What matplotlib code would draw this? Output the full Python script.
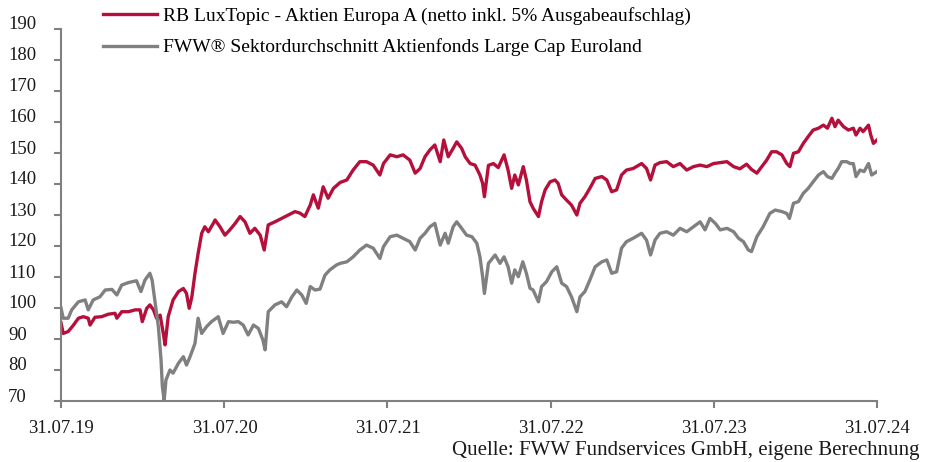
import numpy as np
import pandas as pd
import matplotlib
matplotlib.use("Agg")
import matplotlib.pyplot as plt
import matplotlib.transforms as mtransforms

# days since 31.07.2019 and indexed values
red_days = [0, 5, 16, 28, 39, 50, 61, 65, 76, 91, 106, 121, 125, 136, 151, 166, 177, 182,
            192, 199, 207, 214, 222, 229, 233, 240, 251, 263, 274, 281, 287, 293, 300, 307,
            315, 322, 330, 341, 345, 356, 367, 378, 390, 401, 412, 423, 434, 446, 455, 464,
            479, 494, 509, 524, 535, 546, 558, 565, 576, 587, 598, 610, 625, 640, 654, 669,
            684, 699, 714, 722, 737, 752, 766, 781, 793, 804, 815, 826, 837, 849, 857, 867,
            878, 886, 897, 905, 916, 927, 938, 944, 948, 957, 968, 979, 992, 1001, 1009, 1016,
            1024, 1035, 1042, 1050, 1057, 1069, 1076, 1084, 1095, 1106, 1113, 1121, 1132, 1143,
            1155, 1162, 1173, 1184, 1196, 1211, 1222, 1233, 1244, 1255, 1266, 1281, 1300, 1311,
            1320, 1330, 1341, 1356, 1371, 1386, 1401, 1416, 1431, 1446, 1461, 1476, 1491, 1506,
            1520, 1535, 1546, 1558, 1569, 1580, 1591, 1602, 1614, 1625, 1632, 1640, 1651, 1662,
            1673, 1684, 1696, 1707, 1716, 1726, 1733, 1740, 1752, 1763, 1774, 1780, 1789, 1796,
            1808, 1813, 1819, 1827]
red_vals = [95.2, 91.8, 92.4, 94.5, 96.7, 97.2, 96.7, 94.5, 97.0, 97.2, 98.0, 98.3, 96.7, 98.8,
            98.8, 99.4, 99.4, 95.6, 99.9, 101.0, 99.4, 96.7, 97.7, 91.8, 88.1, 97.2, 102.6, 105.3,
            106.3, 104.7, 99.9, 103.6, 111.2, 117.6, 124.1, 126.2, 124.6, 127.3, 128.4, 126.2,
            123.5, 125.2, 127.3, 129.5, 127.8, 124.1, 125.7, 123.5, 118.7, 126.8, 127.8, 128.9,
            130.0, 131.1, 130.6, 129.5, 133.2, 136.5, 132.2, 139.1, 135.4, 138.6, 140.5, 141.3,
            144.5, 147.2, 147.2, 146.1, 142.9, 146.6, 149.4, 148.8, 149.4, 147.7, 143.5, 145.0,
            148.8, 151.0, 152.6, 147.2, 154.2, 148.8, 151.5, 153.6, 151.5, 148.8, 146.6, 146.1,
            142.9, 140.2, 135.9, 146.0, 146.6, 145.3, 149.4, 144.5, 138.6, 142.9, 139.7, 145.6,
            141.3, 134.3, 132.2, 129.5, 134.3, 138.1, 140.7, 141.3, 140.2, 136.5, 134.8, 133.2,
            130.0, 133.8, 135.9, 138.6, 141.8, 142.4, 141.3, 137.5, 138.1, 142.9, 144.5, 145.0,
            146.6, 145.0, 141.3, 146.1, 146.9, 147.2, 145.6, 146.6, 144.5, 145.6, 146.1, 145.6,
            146.6, 146.9, 147.2, 145.6, 144.9, 146.4, 144.7, 143.5, 145.6, 147.7, 150.4, 150.4,
            149.4, 146.6, 145.6, 149.9, 150.4, 153.1, 155.3, 157.4, 158.0, 159.0, 158.0, 161.2,
            158.5, 160.6, 158.5, 157.4, 158.0, 155.8, 158.0, 156.9, 159.0, 155.8, 153.1, 154.2]

gray_days = [0, 5, 16, 24, 39, 54, 61, 72, 87, 99, 114, 125, 136, 151, 169, 179, 188, 199, 204,
             210, 218, 224, 227, 231, 235, 244, 251, 263, 274, 281, 289, 300, 307, 315, 326, 337,
             352, 363, 375, 386, 397, 408, 419, 431, 442, 452, 457, 464, 479, 494, 505, 517, 528,
             539, 549, 558, 569, 580, 591, 602, 617, 625, 640, 654, 669, 684, 699, 714, 722, 737,
             752, 766, 781, 793, 804, 815, 826, 837, 849, 860, 867, 878, 886, 897, 908, 920, 931,
             938, 944, 948, 957, 972, 983, 992, 1001, 1009, 1016, 1024, 1034, 1042, 1050, 1057,
             1069, 1076, 1087, 1099, 1110, 1121, 1132, 1143, 1155, 1162, 1173, 1184, 1196, 1211,
             1222, 1233, 1244, 1255, 1266, 1281, 1300, 1311, 1320, 1330, 1341, 1356, 1371, 1386,
             1401, 1416, 1431, 1442, 1453, 1465, 1476, 1491, 1506, 1517, 1528, 1539, 1546, 1558,
             1572, 1587, 1599, 1614, 1625, 1631, 1640, 1651, 1662, 1673, 1684, 1696, 1707, 1716,
             1726, 1733, 1740, 1748, 1759, 1767, 1774, 1780, 1789, 1798, 1808, 1815, 1827]
gray_vals = [100.0, 96.7, 96.7, 99.4, 102.0, 102.6, 99.4, 102.6, 103.6, 105.8, 106.0, 104.2,
             107.4, 108.2, 108.8, 105.3, 109.0, 111.2, 109.0, 102.6, 94.0, 83.2, 74.6, 70.3,
             76.8, 80.0, 79.0, 82.2, 84.3, 81.6, 84.3, 88.6, 96.7, 91.8, 94.0, 95.6, 97.2, 91.8,
             95.6, 95.4, 95.6, 94.5, 91.3, 94.5, 93.4, 89.7, 86.5, 98.8, 101.0, 102.0, 100.4,
             103.6, 105.8, 104.2, 101.5, 106.9, 105.8, 106.1, 110.6, 112.3, 113.9, 114.4, 114.9,
             116.5, 118.7, 120.3, 119.3, 116.0, 119.8, 123.0, 123.5, 122.5, 121.4, 118.7, 122.5,
             124.1, 126.2, 127.3, 120.3, 124.1, 120.9, 126.2, 127.8, 125.7, 123.5, 123.0, 120.9,
             116.5, 110.1, 104.7, 114.4, 117.1, 114.4, 116.5, 113.3, 108.0, 112.3, 110.1, 114.9,
             111.2, 106.4, 105.8, 102.0, 106.9, 108.5, 111.7, 113.3, 108.0, 106.9, 103.6, 98.8,
             103.6, 105.3, 109.0, 113.3, 114.9, 115.5, 111.2, 111.7, 119.3, 121.4, 122.5, 124.1,
             121.9, 117.1, 121.9, 124.1, 124.6, 123.5, 125.7, 124.6, 126.2, 127.8, 125.2, 128.9,
             127.3, 125.2, 125.7, 124.6, 122.5, 121.4, 118.7, 118.2, 123.0, 126.2, 130.5, 131.6,
             131.1, 130.5, 128.9, 133.8, 134.3, 137.0, 138.6, 140.7, 142.9, 144.0, 142.4, 141.8,
             143.5, 145.0, 147.2, 147.2, 146.6, 146.6, 142.4, 144.5, 144.0, 146.6, 142.9, 144.0]

y_ticks = list(range(70, 191, 10))
tick_dates = ["2019-07-31", "2020-07-31", "2021-07-31", "2022-07-31", "2023-07-31", "2024-07-31"]
tick_labels = ["31.07.19", "31.07.20", "31.07.21", "31.07.22", "31.07.23", "31.07.24"]

red_label = "RB LuxTopic - Aktien Europa A (netto inkl. 5% Ausgabeaufschlag)"
gray_label = "FWW® Sektordurchschnitt Aktienfonds Large Cap Euroland"
source = "Quelle: FWW Fundservices GmbH, eigene Berechnung"

start = pd.Timestamp("2019-07-31")
red_x = start + pd.to_timedelta(red_days, unit="D")
gray_x = start + pd.to_timedelta(gray_days, unit="D")

plt.rcParams["font.family"] = ["Liberation Serif", "DejaVu Serif"]

RED = "#b5103c"
GRAY = "#808080"
TXT = "#1a1a1a"

fig = plt.figure(figsize=(9.31, 4.62), dpi=100)
ax = fig.add_axes([61 / 931, 1 - 401 / 462, (877 - 61) / 931, (401 - 29) / 462])

l1, = ax.plot(red_x, red_vals, color=RED, lw=2.4, label=red_label)
l2, = ax.plot(gray_x, gray_vals, color=GRAY, lw=2.4, label=gray_label)

ax.set_ylim(70, 190)
ax.set_yticks(y_ticks)
ax.set_yticklabels([])
ax.set_xlim(pd.Timestamp(tick_dates[0]), pd.Timestamp(tick_dates[-1]))
ax.set_xticks([pd.Timestamp(d) for d in tick_dates])
ax.set_xticklabels(tick_labels)

for s in ["top", "right"]:
    ax.spines[s].set_visible(False)
for s in ["left", "bottom"]:
    ax.spines[s].set_color(GRAY)
    ax.spines[s].set_linewidth(1.5)
ax.tick_params(axis="both", color=GRAY, width=1.5, length=5, labelcolor=TXT,
               labelsize=13.5)
ax.tick_params(axis="x", pad=9)

# y labels: left aligned at the figure edge, a little above their ticks
ylab_tr = mtransforms.offset_copy(
    mtransforms.blended_transform_factory(fig.transFigure, ax.transData),
    fig=fig, x=0, y=4, units="dots")
for v in y_ticks:
    ax.text(8 / 931, v, str(v), transform=ylab_tr, ha="left", va="center",
            fontsize=13.5, color=TXT, clip_on=False)

fig.legend(handles=[l1, l2], loc="upper left", bbox_to_anchor=(103 / 931, 1 - 7 / 462),
           frameon=False, borderpad=0, borderaxespad=0, handlelength=2.8,
           handletextpad=0.3, labelspacing=0.7, fontsize=14)

fig.text(452 / 931, 1 - 450 / 462, source, ha="left", va="center", fontsize=15, color=TXT)

fig.savefig("out.png", dpi=100)
